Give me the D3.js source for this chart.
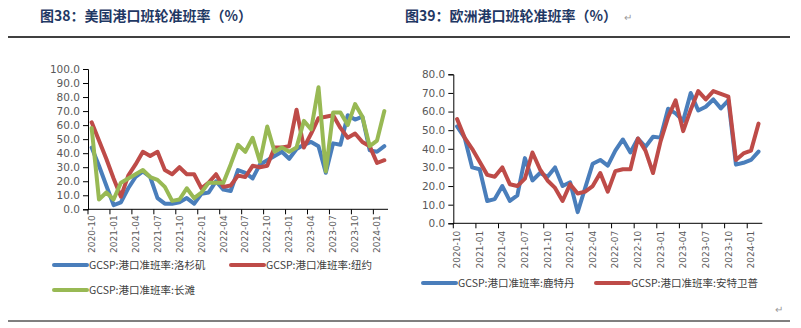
<!DOCTYPE html>
<html>
<head>
<meta charset="utf-8">
<script src="https://cdn.jsdelivr.net/npm/d3@7/dist/d3.min.js"></script>
<style>
body{margin:0;background:#fff}
</style>
</head>
<body>
<div id="chart_disp"></div>
<script>
// months, 2020-10 .. 2024-02
var months = ["2020-10","2020-11","2020-12","2021-01","2021-02","2021-03","2021-04","2021-05","2021-06",
	"2021-07","2021-08","2021-09","2021-10","2021-11","2021-12","2022-01","2022-02","2022-03",
	"2022-04","2022-05","2022-06","2022-07","2022-08","2022-09","2022-10","2022-11","2022-12",
	"2023-01","2023-02","2023-03","2023-04","2023-05","2023-06","2023-07","2023-08","2023-09",
	"2023-10","2023-11","2023-12","2024-01","2024-02"]

// fig 38, US ports
var losAngeles = [44,31,17,3,5,15,23,27,23,8,4,4,5,8,4,11,12,20,14,13,28,
	26,22,32,35,38,41,36,43,46,48,45,26,47,46,67,64,66,42,41,45]
var newYork = [62,49,36,22,9,24,32,41,38,41,28,25,30,25,25,15,19,25,16,17,24,
	23,31,30,31,44,44,45,71,44,54,65,66,67,58,51,54,48,45,33,35]
var longBeach = [58,7,12,7,19,22,25,28,23,21,16,6,7,15,8,12,19,19,19,32,46,
	41,51,34,59,41,44,41,44,63,57,87,27,69,69,60,75,66,45,49,70]

// fig 39, EU ports
var rotterdam = [52,46,30,29,12,13,20,12,15,35,23,27,25,30,20,22,6,19,32,34,31,
	39,45,38,45.5,41,46.5,46,61.5,59,55,70,60.6,62.6,66.5,61.7,66,31.5,32.5,34,38.5]
var antwerp = [56,46,40,33,26,25,30,21,20,24,38,29,23,19,12,21,16,17,20,27,17,
	28,29,29,45.5,39,27,44,57,66,49.5,61,71,66.5,71,69.5,68,34,37.5,39,53.5]

var leftTicks = [0,10,20,30,40,50,60,70,80,90,100]
var rightTicks = [0,10,20,30,40,50,60,70,80]

var titles = ["图38：美国港口班轮准班率（%）", "图39：欧洲港口班轮准班率（%）"]
var usNames = ["GCSP:港口准班率:洛杉矶","GCSP:港口准班率:纽约","GCSP:港口准班率:长滩"]
var euNames = ["GCSP:港口准班率:鹿特丹","GCSP:港口准班率:安特卫普"]

var colors = {blue: "#4A7EBB", red: "#BE4B48", green: "#98B954"}
var cjk = '"Noto Sans CJK SC", sans-serif'

var svg = d3.select("#chart_disp")
	.append("svg")
		.attr("width", 801)
		.attr("height", 328)

// header / footer rules
svg.append("line").attr("x1", 8).attr("x2", 790).attr("y1", 37).attr("y2", 37)
	.attr("stroke", "#000").attr("stroke-width", 1.5)
svg.append("line").attr("x1", 8).attr("x2", 790).attr("y1", 321).attr("y2", 321)
	.attr("stroke", "#000").attr("stroke-width", 1)

svg.selectAll("text.title")
	.data(titles)
	.enter()
	.append("text")
		.attr("class", "title")
		.attr("x", function(d, i){return i == 0 ? 40 : 405})
		.attr("y", 21)
		.attr("font-family", cjk)
		.attr("font-weight", "bold")
		.attr("font-size", "14px")
		.attr("fill", "#1F3864")
		.text(function(d){return d})

svg.append("text").attr("x", 624).attr("y", 21).attr("font-size", "10px")
	.attr("fill", "#999").attr("font-family", cjk).text("↵")
svg.append("text").attr("x", 775).attr("y", 313).attr("font-size", "10px")
	.attr("fill", "#999").attr("font-family", cjk).text("↵")

function panel(p) {
	"use strict"
	var x = d3.scaleBand().domain(months).range([p.x0, p.x1]).padding(0)
	var y = d3.scaleLinear().domain([0, p.ymax]).range([p.y0, p.y1])
	var g = svg.append("g")

	// y axis
	var yAxis = d3.axisLeft(y).tickValues(p.yTicks).tickSize(5).tickPadding(3)
		.tickFormat(d3.format(".1f"))
	var ya = g.append("g").attr("transform", "translate(" + p.x0 + ",0)").call(yAxis)
	ya.select(".domain").attr("stroke", "#000")
	ya.selectAll(".tick line").attr("stroke", "#000")
	ya.selectAll("text").attr("font-family", '"DejaVu Sans", sans-serif')
		.attr("font-size", "10.5px").attr("fill", "#595959")

	// x axis: ticks at every 3rd month boundary, labels at month centres
	var labelled = months.filter(function(d, i){return i % 3 == 0})
	var xa = g.append("g").attr("transform", "translate(0," + p.y0 + ")")
	xa.append("line").attr("x1", p.x0).attr("x2", p.x1).attr("stroke", "#000")
	xa.selectAll("line.tk")
		.data(labelled)
		.enter()
		.append("line")
			.attr("class", "tk")
			.attr("x1", function(d){return x(d)})
			.attr("x2", function(d){return x(d)})
			.attr("y2", 5)
			.attr("stroke", "#000")
	xa.selectAll("text")
		.data(labelled)
		.enter()
		.append("text")
			.attr("transform", function(d){
				return "translate(" + (x(d) + x.bandwidth() / 2) + "," + p.labelGap + ") rotate(-90)"})
			.attr("text-anchor", "end")
			.attr("dy", "0.35em")
			.attr("font-family", '"DejaVu Sans", sans-serif')
			.attr("font-size", "9px")
			.attr("fill", "#595959")
			.text(function(d){return d})

	var line = d3.line()
		.x(function(d, i){return x(months[i]) + x.bandwidth() / 2})
		.y(function(d){return y(d)})

	g.selectAll("path.series")
		.data(p.series)
		.enter()
		.append("path")
			.attr("class", "series")
			.attr("d", function(d){return line(d.values)})
			.attr("fill", "none")
			.attr("stroke", function(d){return d.color})
			.attr("stroke-width", 4)
			.attr("stroke-linejoin", "round")
			.attr("stroke-linecap", "round")

	// legend
	var lg = g.selectAll("g.legend")
		.data(p.series)
		.enter()
		.append("g")
			.attr("class", "legend")
			.attr("transform", function(d){return "translate(" + d.lx + "," + d.ly + ")"})
	lg.append("line").attr("x2", 33).attr("stroke", function(d){return d.color})
		.attr("stroke-width", 4).attr("stroke-linecap", "round")
	lg.append("text").attr("x", 35).attr("dy", "0.35em")
		.attr("font-family", cjk).attr("font-size", "10.5px").attr("fill", "#404040")
		.text(function(d){return d.name})
}

panel({x0: 88, x1: 388, y0: 209.3, y1: 69, ymax: 100, yTicks: leftTicks, labelGap: 6,
	series: [
		{name: usNames[0], values: losAngeles, color: colors.blue, lx: 54, ly: 265},
		{name: usNames[1], values: newYork, color: colors.red, lx: 231, ly: 265},
		{name: usNames[2], values: longBeach, color: colors.green, lx: 54, ly: 290}
	]})

panel({x0: 453.3, x1: 762.3, y0: 223.3, y1: 74.3, ymax: 80, yTicks: rightTicks, labelGap: 7.5,
	series: [
		{name: euNames[0], values: rotterdam, color: colors.blue, lx: 423, ly: 283},
		{name: euNames[1], values: antwerp, color: colors.red, lx: 596, ly: 283}
	]})
</script>
</body>
</html>
